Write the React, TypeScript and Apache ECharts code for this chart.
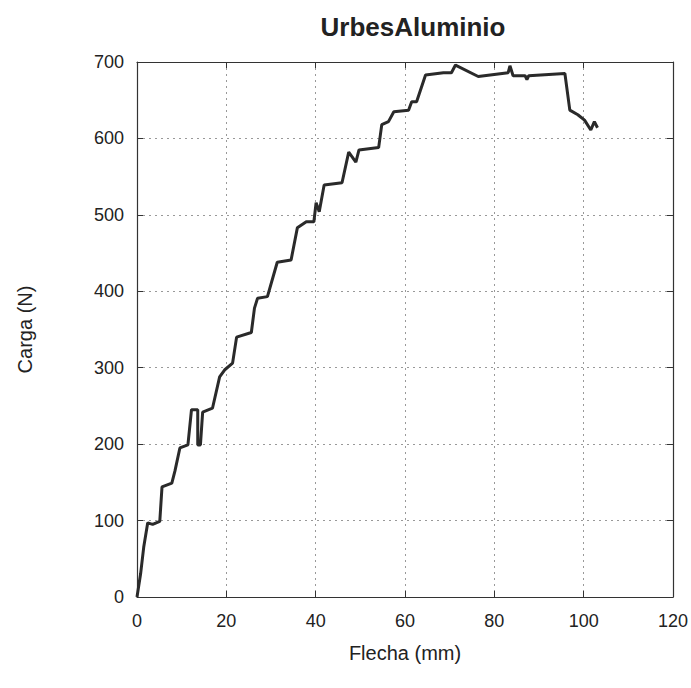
import React, { useEffect, useRef } from "react";
import * as echarts from "echarts";

const flecha = [
  0, 0.8, 1.5, 2.4, 3.5, 5.1, 5.6, 7.8, 8.5, 9.6, 11.4, 12.2, 13.6, 13.6, 14.2, 14.7, 16.9, 18.5, 19.6,
  21.4, 22.3, 25.6, 26.3, 27.0, 29.2, 31.4, 34.5, 35.9, 37.9, 39.6, 40.1, 40.8, 41.9, 45.9,
  47.4, 49.0, 49.7, 54.1, 54.8, 56.3, 57.5, 60.8, 61.5, 62.6, 64.6, 68.6, 70.4, 71.3, 76.4,
  83.1, 83.5, 84.2, 86.9, 87.3, 87.7, 95.8, 96.9, 98.7, 100.2, 101.6, 102.4, 103.1,
];
const carga = [
  0, 30, 65, 97, 95, 99, 144, 149, 165, 195, 199, 245, 245, 199, 199, 242, 247, 288, 297,
  306, 340, 346, 378, 391, 393, 438, 441, 483, 491, 491, 516, 504, 539, 542,
  582, 569, 585, 588, 618, 622, 635, 637, 648, 648, 683, 686, 686, 696, 681,
  686, 695, 682, 682, 677, 682, 685, 637, 631, 624, 611, 622, 614,
];

const xTicks = { min: 0, max: 120, interval: 20 };
const yTicks = { min: 0, max: 700, interval: 100 };

export default function App() {
  const ref = useRef<HTMLDivElement>(null);
  useEffect(() => {
    if (!ref.current) return;
    const chart = echarts.init(ref.current, null, { renderer: "svg" });
    const font = "Liberation Sans, Arial, sans-serif";
    const lineCol = "#333";
    const textCol = "#222";
    const gridLine = { show: true, lineStyle: { color: "#999", type: [2, 4] as any, width: 1 } };
    const points = flecha.map((x, i) => [x, carga[i]]);
    const frameAxis = {
      axisLine: { show: true, onZero: false, lineStyle: { color: lineCol, width: 1.2 } },
      axisTick: { show: true, inside: true, length: 6, lineStyle: { color: lineCol } },
    };
    chart.setOption({
      animation: false,
      backgroundColor: "#fff",
      title: {
        text: "UrbesAluminio",
        left: 408,
        top: 9,
        textAlign: "center",
        textStyle: { fontFamily: font, fontSize: 26, fontWeight: "bold", color: "#222" },
      },
      grid: { left: 137, right: 15, top: 62, bottom: 91, containLabel: false },
      xAxis: [
        {
          type: "value",
          ...xTicks,
          position: "bottom",
          name: "Flecha (mm)",
          nameLocation: "middle",
          nameGap: 46,
          nameTextStyle: { fontFamily: font, fontSize: 20, color: textCol },
          ...frameAxis,
          axisLabel: { fontFamily: font, fontSize: 18, color: textCol, margin: 15 },
          splitLine: gridLine,
        },
        {
          type: "value",
          ...xTicks,
          position: "top",
          ...frameAxis,
          axisLabel: { show: false },
          splitLine: { show: false },
        },
      ],
      yAxis: [
        {
          type: "value",
          ...yTicks,
          position: "left",
          name: "Carga (N)",
          nameLocation: "middle",
          nameGap: 102,
          nameRotate: 90,
          nameTextStyle: { fontFamily: font, fontSize: 20, color: textCol },
          ...frameAxis,
          axisLabel: { fontFamily: font, fontSize: 18, color: textCol, margin: 13 },
          splitLine: gridLine,
        },
        {
          type: "value",
          ...yTicks,
          position: "right",
          ...frameAxis,
          axisLabel: { show: false },
          splitLine: { show: false },
        },
      ],
      series: [
        {
          type: "line",
          data: points,
          xAxisIndex: 0,
          yAxisIndex: 0,
          showSymbol: false,
          symbol: "none",
          lineStyle: { color: "#2a2a2a", width: 3 },
        },
      ],
    });
    return () => chart.dispose();
  }, []);
  return <div ref={ref} style={{ position: "absolute", left: 0, top: 0, width: 691, height: 688 }} />;
}
